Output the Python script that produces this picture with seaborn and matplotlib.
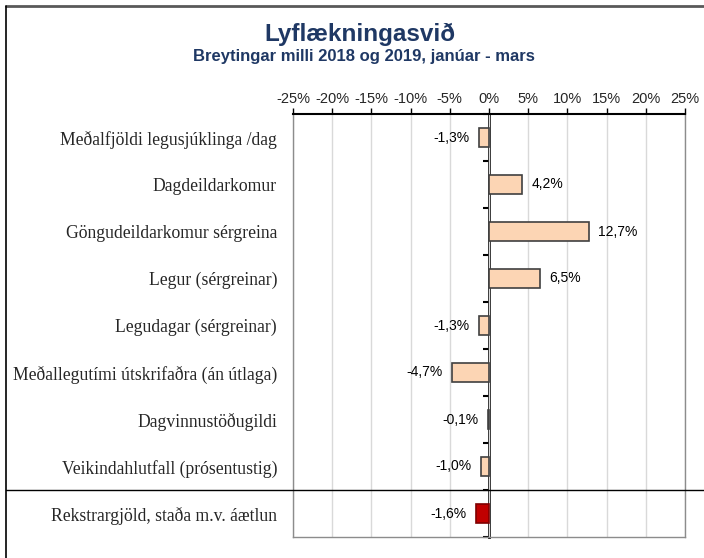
import matplotlib
matplotlib.use("Agg")
import matplotlib.pyplot as plt
from matplotlib.lines import Line2D
import seaborn as sns
import pandas as pd

categories = [
    "Meðalfjöldi legusjúklinga /dag",
    "Dagdeildarkomur",
    "Göngudeildarkomur sérgreina",
    "Legur (sérgreinar)",
    "Legudagar (sérgreinar)",
    "Meðallegutími útskrifaðra (án útlaga)",
    "Dagvinnustöðugildi",
    "Veikindahlutfall (prósentustig)",
    "Rekstrargjöld, staða m.v. áætlun",
]
values = [-1.3, 4.2, 12.7, 6.5, -1.3, -4.7, -0.1, -1.0, -1.6]
x_ticks = [-25, -20, -15, -10, -5, 0, 5, 10, 15, 20, 25]
x_tick_labels = ["-25%", "-20%", "-15%", "-10%", "-5%", "0%", "5%", "10%", "15%", "20%", "25%"]
title = "Lyflækningasvið"
subtitle = "Breytingar milli 2018 og 2019, janúar - mars"

bar_colors = ["#FCD5B4"] * 8 + ["#C00000"]
edge_colors = ["#404040"] * 8 + ["#7F0000"]

df = pd.DataFrame({"category": categories, "value": values})

sns.set_theme(style="white")
plt.rcParams["font.family"] = ["Liberation Sans", "DejaVu Sans"]

fig = plt.figure(figsize=(7.04, 5.58), dpi=100)
ax = fig.add_axes([293 / 704, 1 - 537 / 558, (685 - 293) / 704, (537 - 114) / 558])

sns.barplot(data=df, x="value", y="category", hue="category",
            palette=dict(zip(categories, bar_colors)), orient="h",
            width=0.4, legend=False, ax=ax, linewidth=1.2, saturation=1)

for cont, ec in zip(ax.containers, edge_colors):
    for b in cont:
        b.set_edgecolor(ec)
    labels = [f"{b.get_width():.1f}%".replace(".", ",") for b in cont]
    ax.bar_label(cont, labels=labels, padding=7, fontsize=10, color="black")

ax.set_xlim(-25, 25)
ax.set_ylim(len(categories) - 0.5, -0.5)
ax.set_xlabel("")
ax.set_ylabel("")

ax.xaxis.tick_top()
ax.set_xticks(x_ticks)
ax.set_xticklabels(x_tick_labels, fontsize=10.5)
ax.tick_params(axis="x", which="major", top=True, bottom=False, length=4,
               width=1, color="black", pad=2)
ax.grid(axis="x", color="#D9D9D9", linewidth=1)
ax.grid(axis="y", visible=False)
ax.set_axisbelow(True)

ax.set_yticks(range(len(categories)))
ax.set_yticklabels(categories, fontsize=12.7, family=["Liberation Serif", "DejaVu Serif"])
ax.tick_params(axis="y", length=0, pad=11.5)

for s in ["left", "right", "bottom"]:
    ax.spines[s].set_color("#8C8C8C")
    ax.spines[s].set_linewidth(1)
ax.spines["top"].set_color("black")
ax.spines["top"].set_linewidth(1.5)

# zero (category) axis with small ticks between categories
sec = ax.secondary_yaxis(0.5)
sec.set_yticks([i + 0.5 for i in range(-1, len(categories))])
sec.set_yticklabels([])
sec.tick_params(axis="y", length=4, width=1.5, color="black", direction="in")
for s in ["left", "right"]:
    sec.spines[s].set_color("black")
    sec.spines[s].set_linewidth(2)
for s in ["top", "bottom"]:
    sec.spines[s].set_visible(False)

# separator line before the last category
ax.axhline(len(categories) - 1.5, xmin=-287 / 392, xmax=(704 - 293) / 392,
           color="black", linewidth=1, clip_on=False, zorder=5)

fig.text(360 / 704, 1 - 41 / 558, title, ha="center", va="baseline",
         fontsize=17.5, fontweight="bold", color="#1F3864")
fig.text(364 / 704, 1 - 61.5 / 558, subtitle, ha="center", va="baseline",
         fontsize=12, fontweight="bold", color="#1F3864")

fig.add_artist(Line2D([6 / 704, 1.0], [1 - 6 / 558, 1 - 6 / 558],
                      transform=fig.transFigure, color="#595959", linewidth=2))
fig.add_artist(Line2D([6 / 704, 6 / 704], [0, 1 - 6 / 558],
                      transform=fig.transFigure, color="black", linewidth=1.2))

fig.savefig("out.png", dpi=100)
